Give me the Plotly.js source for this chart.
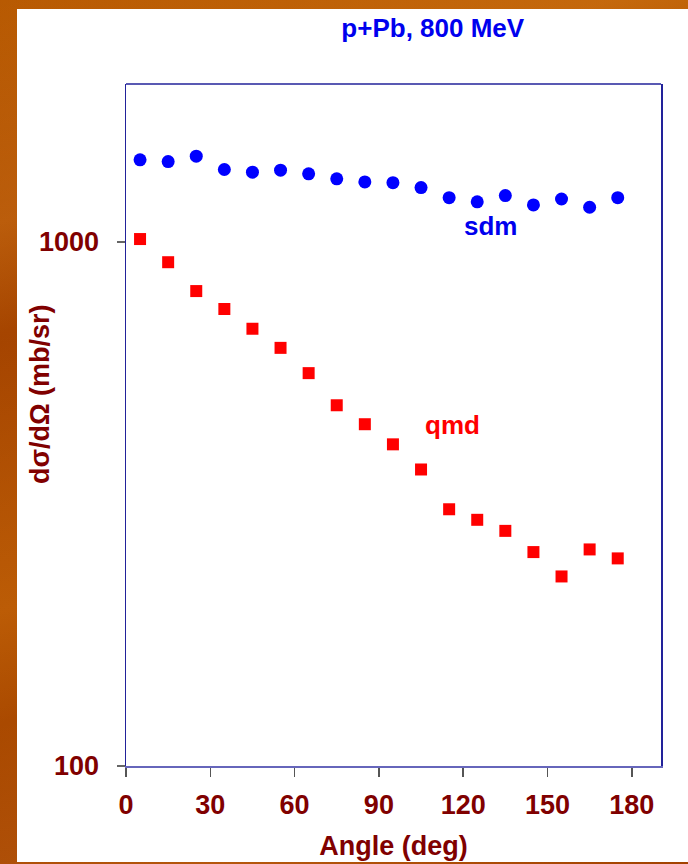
<!DOCTYPE html>
<html>
<head>
<meta charset="utf-8">
<script src="https://cdn.plot.ly/plotly-3.0.1.min.js"></script>
<style>
  html, body { margin: 0; padding: 0; }
  body {
    width: 688px; height: 864px; overflow: hidden; position: relative;
    background:
      linear-gradient(160deg, rgba(255,170,60,0.0) 0%, rgba(255,170,60,0.18) 20%, rgba(0,0,0,0) 30%, rgba(255,160,40,0.15) 55%, rgba(0,0,0,0) 65%, rgba(255,170,60,0.2) 85%, rgba(0,0,0,0) 100%),
      linear-gradient(180deg, #b85a02 0%, #a54400 40%, #b05000 70%, #a34200 100%);
  }
  #panel { position: absolute; left: 17px; top: 9px; right: 0; bottom: 2px; background: #ffffff; }
  #chart { position: absolute; left: 0; top: 0; width: 688px; height: 864px; }
</style>
</head>
<body>
<div id="panel"></div>
<div id="chart"></div>
<script>
// Data
const angles = [5, 15, 25, 35, 45, 55, 65, 75, 85, 95, 105, 115, 125, 135, 145, 155, 165, 175];
const sdmValues = [1435, 1424, 1458, 1375, 1359, 1371, 1349, 1320, 1302, 1298, 1270, 1215, 1193, 1226, 1177, 1208, 1165, 1215];
const qmdValues = [1013, 915, 806, 745, 683, 628, 562, 488, 449, 411, 368, 309, 295, 281, 256, 230, 259, 249];
const xTickVals = [0, 30, 60, 90, 120, 150, 180];
const yTickVals = [100, 1000];
const yTickText = ['100', '1000'];

const darkRed = '#800000';
const font = 'Liberation Sans, Arial, Helvetica, sans-serif';

const traces = [
  {
    x: angles, y: sdmValues, type: 'scatter', mode: 'markers', name: 'sdm',
    marker: { symbol: 'circle', size: 13, color: '#0000ff' }
  },
  {
    x: angles, y: qmdValues, type: 'scatter', mode: 'markers', name: 'qmd',
    marker: { symbol: 'square', size: 12, color: '#ff0000' }
  }
];

const layout = {
  width: 688, height: 864,
  paper_bgcolor: 'rgba(0,0,0,0)',
  plot_bgcolor: '#ffffff',
  showlegend: false,
  margin: { l: 126, r: 27, t: 84, b: 98 },
  title: {
    text: '<b>p+Pb, 800 MeV</b>',
    font: { family: font, size: 26, color: '#0000ee' },
    x: 394.5 / 688, xanchor: 'center', xref: 'paper',
    y: 1 - 27.5 / 864, yanchor: 'middle', yref: 'container'
  },
  xaxis: {
    range: [0, 190.4],
    tickvals: xTickVals,
    ticktext: xTickVals.map(String),
    ticks: 'outside', ticklen: 9, tickwidth: 1.5, tickcolor: '#555555',
    tickfont: { family: font, size: 27, color: darkRed, weight: 'bold' },
    ticklabelstandoff: 5,
    showline: true, linecolor: '#6666bb', linewidth: 2, mirror: false,
    showgrid: false, zeroline: false,
    title: {
      text: '<b>Angle (deg)</b>',
      font: { family: font, size: 27, color: darkRed },
      standoff: 17
    }
  },
  yaxis: {
    type: 'log',
    range: [2, 3.3015],
    tickvals: yTickVals,
    ticktext: yTickText,
    ticks: 'outside', ticklen: 8, tickwidth: 1.5, tickcolor: '#666666',
    tickfont: { family: font, size: 27, color: darkRed, weight: 'bold' },
    ticklabelstandoff: 12,
    showline: true, linecolor: '#22229a', linewidth: 1.5, mirror: true,
    showgrid: false, zeroline: false
  },
  shapes: [
    { type: 'line', xref: 'paper', yref: 'paper', x0: 0, x1: 1, y0: 1, y1: 1,
      line: { color: '#22229a', width: 1.5 } }
  ],
  annotations: [
    {
      text: '<b>dσ/dΩ (mb/sr)</b>', textangle: -90,
      xref: 'paper', yref: 'paper', x: 0, y: (766 - 394) / 682,
      xanchor: 'center', yanchor: 'middle', xshift: -86,
      showarrow: false, font: { family: font, size: 27, color: darkRed }
    },
    {
      text: '<b>sdm</b>', xref: 'x', yref: 'y', x: 129.7, y: Math.log10(1075),
      xanchor: 'center', yanchor: 'middle', showarrow: false,
      font: { family: font, size: 26, color: '#0000ee' }
    },
    {
      text: '<b>qmd</b>', xref: 'x', yref: 'y', x: 116.2, y: Math.log10(448),
      xanchor: 'center', yanchor: 'middle', showarrow: false,
      font: { family: font, size: 26, color: '#ff0000' }
    }
  ]
};

Plotly.newPlot('chart', traces, layout, { displayModeBar: false, staticPlot: true });
</script>
</body>
</html>
